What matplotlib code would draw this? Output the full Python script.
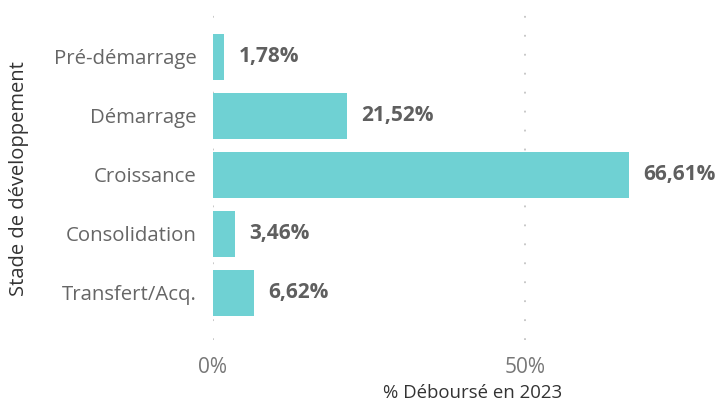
import matplotlib.pyplot as plt
import numpy as np

plt.rcParams['font.family'] = ['Open Sans', 'DejaVu Sans']

stades = ['Pré-démarrage', 'Démarrage', 'Croissance', 'Consolidation', 'Transfert/Acq.']
pourcentages = [1.78, 21.52, 66.61, 3.46, 6.62]
ticks_x = [0, 50]
tick_labels = ['0%', '50%']

couleur_barre = '#6FD1D3'
W, H = 719, 405

fig = plt.figure(figsize=(W / 100, H / 100), dpi=100)
# zone de tracé en pixels : 0% à x=213, 50% à x=525
ax = fig.add_axes([213 / W, 1 - 340 / H, (78 * 6.24) / W, 325 / H])

y = np.arange(len(stades))
ax.barh(y, pourcentages, height=0.78, color=couleur_barre, zorder=2)

ax.set_xlim(0, 78)
ax.set_ylim(4.8, -0.71)

for xi in ticks_x:
    ax.plot([xi, xi], [4.8, -0.71], color='#C4C4C4', linestyle=(0, (1, 9.5)),
            linewidth=1.3, zorder=1)

for yi, v in zip(y, pourcentages):
    ax.text(v + 2.3, yi, f'{v:.2f}%'.replace('.', ','), va='center', ha='left',
            fontsize=15, fontweight='bold', color='#5F5F5F')

ax.set_yticks(y)
ax.set_yticklabels(stades, fontsize=14.7, color='#666666')
ax.set_xticks(ticks_x)
ax.set_xticklabels(tick_labels, fontsize=15, color='#777777')
ax.tick_params(axis='both', length=0)
ax.tick_params(axis='y', pad=12)
ax.tick_params(axis='x', pad=12)

for s in ax.spines.values():
    s.set_visible(False)

fig.text(473 / W, 1 - 393 / H, '% Déboursé en 2023', fontsize=13.4,
         color='#333333', ha='center', va='center')
fig.text(19.5 / W, 1 - 179 / H, 'Stade de développement', fontsize=14.5,
         color='#333333', ha='center', va='center', rotation=90)

fig.savefig('out.png', dpi=100)
